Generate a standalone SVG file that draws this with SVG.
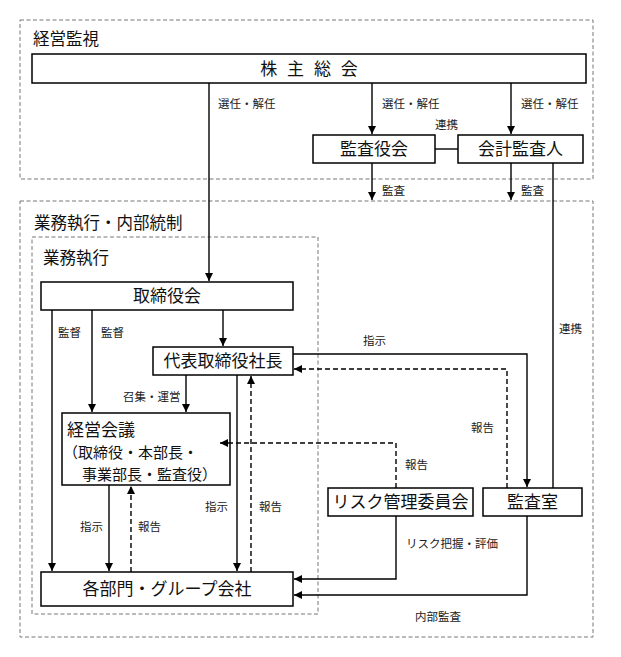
<svg xmlns="http://www.w3.org/2000/svg" width="621" height="657" viewBox="0 0 621 657">
<style>
  .area{fill:none;stroke:#777;stroke-width:1;stroke-dasharray:4 2.5}
  .box{fill:#fff;stroke:#000;stroke-width:1.5}
  .t{font-family:"Noto Sans CJK JP","Noto Sans CJK SC",sans-serif;font-size:17px;fill:#111}
  .tm{text-anchor:middle}
  .ts{font-size:15px}
  .al{font-family:"Noto Sans CJK JP","Noto Sans CJK SC",sans-serif;font-size:16.5px;fill:#111}
  .lb{font-family:"Noto Sans CJK JP","Noto Sans CJK SC",sans-serif;font-size:11.5px;fill:#222}
  .c{fill:none;stroke:#000;stroke-width:1.4}
  .d{stroke-dasharray:5 3}
</style>
<defs>
  <marker id="ah" viewBox="0 0 8 8" refX="8" refY="4" markerWidth="8" markerHeight="8" markerUnits="userSpaceOnUse" orient="auto">
    <path d="M0,0 L8,4 L0,8 Z" fill="#000"/>
  </marker>
</defs>
<rect width="621" height="657" fill="#fff"/>

<g id="area-keiei-kanshi">
  <rect class="area" x="20" y="20" width="573" height="159"/>
  <text class="al" x="33" y="45">経営監視</text>
</g>
<g id="area-gyomu-naibu">
  <rect class="area" x="20" y="201" width="573" height="436"/>
  <text class="al" x="34" y="229">業務執行・内部統制</text>
</g>
<g id="area-gyomu">
  <rect class="area" x="32" y="237" width="286" height="377"/>
  <text class="al" x="43" y="264">業務執行</text>
</g>

<g id="n-kabunushi">
  <rect class="box" x="32" y="54" width="554" height="29"/>
  <text class="t tm" x="309" y="75" style="word-spacing:6px">株 主 総 会</text>
</g>
<g id="n-kansayakukai">
  <rect class="box" x="313" y="135" width="122" height="28"/>
  <text class="t tm" x="374" y="155">監査役会</text>
</g>
<g id="n-kaikei">
  <rect class="box" x="458" y="135" width="125" height="28"/>
  <text class="t tm" x="520.5" y="155">会計監査人</text>
</g>
<g id="n-torishimariyakukai">
  <rect class="box" x="41" y="282" width="252" height="28"/>
  <text class="t tm" x="167" y="302">取締役会</text>
</g>
<g id="n-shacho">
  <rect class="box" x="153" y="347" width="140" height="28"/>
  <text class="t tm" x="223" y="367">代表取締役社長</text>
</g>
<g id="n-keieikaigi">
  <rect class="box" x="62" y="413" width="168" height="72"/>
  <text class="t" x="67" y="436">経営会議</text>
  <text class="t ts" x="63" y="458">（取締役・本部長・</text>
  <text class="t ts" x="82" y="480">事業部長・監査役）</text>
</g>
<g id="n-kakubumon">
  <rect class="box" x="41" y="572" width="252" height="34"/>
  <text class="t tm" x="167" y="595">各部門・グループ会社</text>
</g>
<g id="n-risk">
  <rect class="box" x="328" y="488" width="145" height="28"/>
  <text class="t tm" x="400.5" y="508">リスク管理委員会</text>
</g>
<g id="n-kansashitsu">
  <rect class="box" x="483" y="488" width="99" height="28"/>
  <text class="t tm" x="532.5" y="508">監査室</text>
</g>

<g id="connectors">
  <path class="c" d="M209,83 V281" marker-end="url(#ah)"/>
  <path class="c" d="M372,83 V134" marker-end="url(#ah)"/>
  <path class="c" d="M511,83 V134" marker-end="url(#ah)"/>
  <path class="c" d="M435,149 H458"/>
  <path class="c" d="M372,163 V200" marker-end="url(#ah)"/>
  <path class="c" d="M511,163 V200" marker-end="url(#ah)"/>
  <path class="c" d="M553,163 V488"/>
  <path class="c" d="M52,310 V571" marker-end="url(#ah)"/>
  <path class="c" d="M92,310 V412" marker-end="url(#ah)"/>
  <path class="c" d="M223,310 V346" marker-end="url(#ah)"/>
  <path class="c" d="M186,375 V412" marker-end="url(#ah)"/>
  <path class="c" d="M237,375 V571" marker-end="url(#ah)"/>
  <path class="c d" d="M251,572 V376" marker-end="url(#ah)"/>
  <path class="c" d="M109,485 V571" marker-end="url(#ah)"/>
  <path class="c d" d="M131,572 V486" marker-end="url(#ah)"/>
  <path class="c" d="M293,354 H527 V487" marker-end="url(#ah)"/>
  <path class="c d" d="M507,488 V369 H294" marker-end="url(#ah)"/>
  <path class="c d" d="M396,488 V443 H220" marker-end="url(#ah)"/>
  <path class="c" d="M396,516 V579 H294" marker-end="url(#ah)"/>
  <path class="c" d="M527,516 V595 H294" marker-end="url(#ah)"/>

  <text class="lb" x="218" y="108">選任・解任</text>
  <text class="lb" x="382" y="108">選任・解任</text>
  <text class="lb" x="521" y="108">選任・解任</text>
  <text class="lb" x="435" y="129">連携</text>
  <text class="lb" x="382" y="195">監査</text>
  <text class="lb" x="521" y="195">監査</text>
  <text class="lb" x="559" y="333">連携</text>
  <text class="lb" x="58" y="337">監督</text>
  <text class="lb" x="101" y="337">監督</text>
  <text class="lb" x="123" y="401">召集・運営</text>
  <text class="lb" x="80" y="531">指示</text>
  <text class="lb" x="138" y="531">報告</text>
  <text class="lb" x="205" y="511">指示</text>
  <text class="lb" x="259" y="511">報告</text>
  <text class="lb" x="363" y="345">指示</text>
  <text class="lb" x="471" y="432">報告</text>
  <text class="lb" x="405" y="469">報告</text>
  <text class="lb" x="406" y="548">リスク把握・評価</text>
  <text class="lb" x="415" y="621">内部監査</text>
</g>
</svg>
